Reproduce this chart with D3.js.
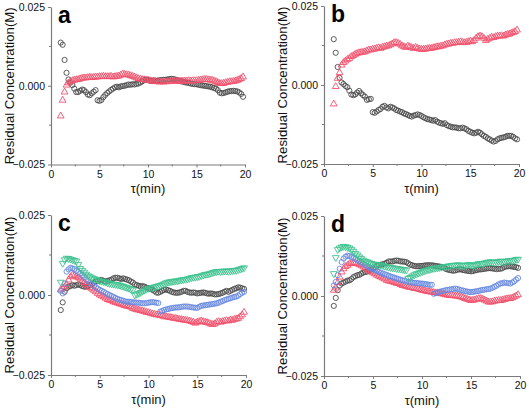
<!DOCTYPE html>
<html><head><meta charset="utf-8">
<script src="https://cdn.jsdelivr.net/npm/d3@7"></script>
<style>body{margin:0;background:#fff}svg{display:block}text{font-family:Arial,"Liberation Sans",sans-serif}</style>
</head><body>
<svg id="chart" width="529" height="410"></svg>
<script>
// time axis (min)
const tau = [1.0,1.2,1.4,1.6,1.8,2.0,2.2,2.4,2.6,2.8,
3.0,3.2,3.4,3.6,3.8,4.0,4.2,4.4,4.6,4.8,
5.0,5.2,5.4,5.6,5.8,6.0,6.2,6.4,6.6,6.8,
7.0,7.2,7.4,7.6,7.8,8.0,8.2,8.4,8.6,8.8,
9.0,9.2,9.4,9.6,9.8,10.0,10.2,10.4,10.6,10.8,
11.0,11.2,11.4,11.6,11.8,12.0,12.2,12.4,12.6,12.8,
13.0,13.2,13.4,13.6,13.8,14.0,14.2,14.4,14.6,14.8,
15.0,15.2,15.4,15.6,15.8,16.0,16.2,16.4,16.6,16.8,
17.0,17.2,17.4,17.6,17.8,18.0,18.2,18.4,18.6,18.8,
19.0,19.2,19.4,19.6,19.8];

// residuals in mM (1e-3 M)
const aBlack = [13.7,13.0,8.2,4.1,2.0,1.0,0.2,-0.9,-2.0,-2.0,
-1.6,-1.2,-1.4,-2.0,-2.8,-3.0,-2.4,-1.9,-1.4,-4.6,
-4.8,-4.5,-3.6,-2.9,-2.3,-1.8,-1.3,-0.9,-0.5,-0.3,
-0.5,-0.2,-0.1,0.0,0.2,0.4,0.3,0.5,0.4,0.6,
0.7,1.0,1.4,1.8,1.9,1.8,1.6,1.5,1.7,1.6,
1.6,1.8,1.8,1.9,1.9,2.0,2.1,2.2,2.1,2.0,
1.8,1.6,1.4,1.3,1.1,1.0,0.9,0.7,0.6,0.5,
0.5,0.3,0.2,0.1,0.0,-0.1,-0.2,-0.3,-0.5,-0.7,
-0.9,-1.4,-2.2,-2.4,-2.3,-2.1,-1.9,-1.7,-1.7,-1.6,
-1.7,-1.8,-2.1,-2.6,-3.5];
const aRed = [-9.6,-4.6,-2.0,0.2,0.9,1.3,1.6,1.8,1.9,2.0,
2.2,2.4,2.5,2.5,2.6,2.7,2.6,2.7,2.8,2.8,
2.9,2.9,3.0,2.9,2.9,2.9,3.0,2.8,2.9,3.0,
3.1,3.4,3.7,3.6,3.5,3.4,3.2,3.0,2.8,2.5,
2.3,2.1,2.0,1.9,1.8,1.8,1.6,1.5,1.4,1.3,
1.3,1.2,1.3,1.2,1.3,1.3,1.4,1.4,1.5,1.5,
1.5,1.4,1.5,1.5,1.5,1.5,1.6,1.5,1.6,1.6,
1.6,1.7,1.8,1.9,2.0,2.0,1.9,1.8,1.8,1.5,
1.3,1.0,0.7,0.7,0.8,1.0,1.1,1.3,1.3,1.4,
1.5,1.7,2.0,2.3,2.8];
const bBlack = [14.5,10.2,5.7,2.3,0.8,0.3,-0.3,-0.7,-1.8,-3.0,
-3.2,-3.0,-2.4,-1.9,-2.6,-3.2,-3.7,-4.7,-4.5,-4.4,
-8.6,-8.8,-8.4,-7.9,-7.6,-6.9,-6.6,-7.1,-7.4,-6.9,
-7.1,-7.4,-7.9,-8.1,-8.4,-8.6,-9.0,-9.2,-9.5,-9.8,
-10.0,-9.7,-9.5,-9.3,-9.5,-9.8,-10.2,-10.5,-10.8,-10.9,
-11.1,-11.3,-11.1,-11.6,-11.9,-12.1,-12.3,-12.1,-12.7,-13.0,
-13.2,-13.4,-13.4,-13.5,-13.7,-13.7,-13.5,-13.7,-14.0,-14.5,
-14.8,-15.1,-15.3,-15.1,-14.8,-15.1,-15.6,-16.1,-16.4,-16.9,
-17.2,-17.6,-17.9,-17.7,-17.2,-16.9,-16.7,-16.6,-16.4,-16.1,
-16.1,-16.1,-16.4,-16.9,-17.2];
const bRed = [-6.0,-0.5,2.1,3.9,6.3,7.1,7.6,8.1,8.4,9.0,
9.3,9.7,10.0,10.2,10.3,10.4,10.5,10.8,11.1,11.1,
11.3,11.4,11.6,11.8,11.6,11.9,12.1,12.3,12.4,12.7,
13.0,13.4,13.4,13.2,12.9,12.4,12.1,11.9,12.3,12.1,
11.8,11.6,11.9,11.6,11.4,11.3,11.3,11.4,11.5,11.6,
11.6,11.8,11.9,12.1,12.1,12.3,12.4,12.7,12.9,13.0,
13.2,13.2,13.4,13.4,13.5,13.7,13.5,13.4,13.5,13.7,
13.9,13.7,14.1,14.8,15.3,15.5,15.3,14.8,14.1,14.5,
14.8,15.1,15.0,15.3,15.5,15.5,15.6,15.5,15.8,16.0,
16.1,16.4,16.6,16.9,17.4];
const cBlack = [-4.7,-2.3,1.0,2.1,2.6,2.8,3.1,2.9,3.1,3.3,
3.1,2.8,2.6,2.6,2.8,3.1,3.4,3.9,4.2,4.4,
4.6,4.7,4.4,4.2,4.4,4.6,4.8,5.2,5.4,5.4,
5.2,5.0,5.2,5.0,4.8,4.6,4.2,3.9,3.3,3.1,
2.9,2.7,2.8,2.6,2.3,2.1,1.9,1.6,1.3,0.8,
0.7,1.0,1.3,1.6,1.7,1.5,1.3,1.0,0.8,0.7,
0.7,0.8,1.0,1.3,1.3,1.0,0.8,0.7,0.8,0.7,
0.5,0.6,0.7,0.8,0.7,0.5,0.4,0.5,0.4,0.2,
0.2,0.3,0.5,0.7,1.0,1.3,1.0,1.3,1.6,1.9,
2.1,2.4,2.3,2.1,1.9];
const cRed = [1.6,2.1,2.6,3.3,4.7,5.7,6.2,6.0,5.7,5.4,
5.0,4.4,3.9,3.3,2.8,2.3,1.9,1.5,1.0,0.5,
0.0,-0.3,-0.6,-1.0,-1.4,-1.6,-1.8,-2.1,-2.3,-2.5,
-2.7,-2.9,-3.1,-3.3,-3.5,-3.6,-3.8,-4.2,-4.4,-4.6,
-4.7,-4.9,-5.0,-5.2,-5.4,-5.5,-5.7,-5.9,-6.0,-6.2,
-6.2,-6.4,-6.5,-6.8,-6.8,-6.9,-7.0,-7.1,-7.3,-7.3,
-7.5,-7.6,-7.7,-7.8,-7.9,-8.0,-8.1,-8.3,-8.5,-8.8,
-8.5,-8.3,-8.1,-8.3,-8.5,-8.6,-8.8,-9.1,-9.2,-9.0,
-8.5,-8.3,-8.5,-8.3,-8.1,-8.0,-8.1,-7.8,-7.9,-7.6,
-7.5,-7.3,-6.8,-6.2,-5.4];
const cBlue = [1.3,0.5,3.6,7.3,8.0,8.5,8.3,8.1,7.6,7.2,
6.8,6.2,5.6,4.9,4.3,3.6,3.2,2.8,2.4,2.0,
1.6,1.3,1.0,0.6,0.3,0.0,-0.3,-0.6,-0.9,-1.2,
-1.4,-1.6,-1.8,-2.0,-2.1,-2.1,-2.2,-2.3,-2.3,-2.4,
-2.4,-2.5,-2.6,-2.6,-2.5,-2.4,-2.3,-2.2,-2.3,-2.4,
-2.5,-5.2,-5.0,-4.7,-4.5,-4.4,-4.2,-4.1,-4.0,-3.9,
-3.9,-3.8,-3.7,-3.6,-3.6,-3.6,-3.7,-3.8,-3.9,-4.0,
-4.0,-3.7,-3.4,-3.3,-3.2,-3.1,-3.0,-2.9,-2.8,-2.7,
-2.6,-2.4,-2.1,-1.9,-1.6,-1.4,-1.2,-1.0,-0.8,-0.6,
-0.5,-0.2,0.3,0.7,1.0];
const cGreen = [4.0,9.9,11.0,11.5,11.4,11.2,11.0,10.8,10.6,9.5,
8.3,7.7,7.1,6.5,6.0,5.7,5.4,5.1,4.9,4.6,
4.4,4.3,4.1,4.0,3.8,3.6,3.5,3.4,3.3,3.2,
3.1,2.9,2.7,2.5,2.3,2.1,1.8,1.6,0.0,0.2,
0.5,0.8,1.2,1.5,1.8,2.1,2.2,2.3,2.5,2.7,
2.8,3.0,3.2,3.5,3.8,4.0,4.1,4.2,4.3,4.4,
4.4,4.6,4.7,4.8,4.9,5.0,5.2,5.4,5.5,5.6,
5.7,5.8,6.0,6.2,6.4,6.5,6.6,6.8,7.0,7.2,
7.3,7.4,7.3,7.4,7.5,7.5,7.4,7.5,7.6,7.7,
7.7,7.9,8.1,8.3,8.5];
const dBlack = [-3.1,-0.6,1.8,3.3,3.9,4.2,4.5,4.8,4.9,5.3,
5.9,6.2,6.5,6.6,7.0,7.3,7.5,7.6,8.0,8.3,
8.5,9.0,9.6,9.7,9.8,9.9,10.1,10.4,10.8,10.8,
10.8,11.0,11.1,11.0,10.8,10.8,10.7,10.6,10.2,9.8,
9.6,9.4,9.3,9.3,9.4,9.4,9.5,9.6,9.6,9.6,
9.6,9.5,9.4,9.3,9.2,9.1,8.9,8.5,8.3,8.1,
8.0,7.9,8.0,8.2,8.3,8.3,8.1,8.0,7.9,7.8,
7.7,7.8,8.0,8.1,8.3,8.3,8.4,8.5,8.6,8.7,
8.7,8.6,8.5,8.4,8.5,8.5,8.7,9.1,9.2,9.3,
9.3,9.2,9.1,9.0,8.8];
const dRed = [1.8,2.5,4.2,5.9,7.5,8.5,9.2,9.6,10.1,10.2,
10.4,10.3,10.1,9.8,9.6,9.1,8.8,8.4,8.0,7.6,
7.2,6.9,6.5,6.2,5.9,5.6,5.3,4.9,4.7,4.6,
4.4,4.2,4.0,3.9,3.6,3.3,3.2,3.0,2.8,2.7,
2.6,2.4,2.3,2.2,2.0,1.8,1.7,1.5,1.4,1.3,
1.2,1.1,1.0,1.0,0.8,0.7,0.6,0.4,0.3,0.2,
0.2,0.1,0.0,0.0,-0.2,-0.3,-0.5,-0.8,-1.0,-1.2,
-1.4,-1.3,-1.2,-1.0,-0.8,-0.8,-1.0,-1.3,-1.6,-1.9,
-1.9,-1.8,-1.6,-1.5,-1.4,-1.4,-1.3,-1.1,-0.9,-0.8,
-0.8,-0.6,-0.3,0.0,0.4];
const dBlue = [3.3,4.4,6.5,8.5,10.6,11.7,12.3,12.6,12.5,12.2,
11.9,11.6,11.3,10.9,10.5,10.1,9.7,9.3,9.0,8.6,
8.3,8.1,7.8,7.5,7.3,7.0,6.8,6.6,6.3,6.1,
5.9,5.7,5.5,5.3,5.1,4.9,4.8,4.6,4.4,4.3,
4.2,4.1,4.1,4.0,3.9,3.9,3.8,3.7,3.6,3.5,
3.5,0.7,0.9,1.1,1.3,1.5,1.6,1.8,1.9,2.0,
2.1,2.2,2.3,2.2,2.0,1.8,1.7,1.5,1.4,1.3,
1.2,1.3,1.4,1.5,1.6,1.8,1.9,2.0,2.1,2.2,
2.3,2.6,2.9,3.2,3.6,3.9,4.0,4.2,4.1,4.0,
3.9,4.2,4.6,5.1,5.6];
const dGreen = [7.0,12.0,14.5,15.0,15.3,15.5,15.4,15.2,15.0,14.5,
14.0,13.3,12.8,12.2,11.7,11.2,10.9,10.7,10.4,10.2,
10.0,9.9,9.8,9.7,9.7,9.5,9.3,9.2,9.0,8.9,
8.8,8.7,8.6,8.5,8.4,8.3,8.2,8.1,5.5,5.8,
6.2,6.6,6.9,7.1,7.3,7.6,7.8,8.0,8.2,8.3,
8.5,8.6,8.7,8.8,8.9,9.0,9.1,9.2,9.3,9.4,
9.5,9.6,9.6,9.7,9.7,9.6,9.5,9.6,9.7,9.8,
9.7,9.6,9.7,9.9,10.1,10.2,10.1,10.3,10.5,10.6,
10.7,10.6,10.5,10.6,10.8,10.9,10.8,10.7,10.9,11.0,
11.1,11.0,11.2,11.4,11.5];

const xTicks = [0, 5, 10, 15, 20];
const xMinor = [2.5, 7.5, 12.5, 17.5];
const yTicks = [-0.025, 0.000, 0.025];
const yMinor = [-0.0125, 0.0125];
const panelLabels = ["a", "b", "c", "d"];

const svg = d3.select("#chart");
const styles = {
  black: {color: "#4a4a4a", shape: "circle"},
  red:   {color: "#f2506c", shape: "up"},
  blue:  {color: "#6688e0", shape: "circle"},
  green: {color: "#3ec28e", shape: "down"}
};

const panels = [
  {label: panelLabels[0], x0: 51, x1: 245, yT: 7, yB: 164.5, titleX: 9,
   series: [["black", aBlack], ["red", aRed]]},
  {label: panelLabels[1], x0: 324, x1: 519, yT: 6, yB: 164, titleX: 282,
   series: [["black", bBlack], ["red", bRed]]},
  {label: panelLabels[2], x0: 51, x1: 246, yT: 215, yB: 375, titleX: 9,
   series: [["black", cBlack], ["red", cRed], ["blue", cBlue], ["green", cGreen]]},
  {label: panelLabels[3], x0: 324, x1: 520, yT: 216, yB: 376, titleX: 282,
   series: [["black", dBlack], ["red", dRed], ["blue", dBlue], ["green", dGreen]]}
];

const symCircle = d3.symbol().type(d3.symbolCircle).size(21)();
const symTri = d3.symbol().type(d3.symbolTriangle).size(20)();

panels.forEach(p => {
  const x = d3.scaleLinear().domain([0, 20]).range([p.x0, p.x1]);
  const y = d3.scaleLinear().domain([-0.025, 0.025]).range([p.yB, p.yT]);
  const g = svg.append("g");
  const axisColor = "#7a7a7a";

  // x axis
  const xa = g.append("g").attr("transform", `translate(0,${p.yB})`)
    .call(d3.axisBottom(x).tickValues(xTicks).tickSize(3).tickSizeOuter(0).tickPadding(3).tickFormat(d3.format("d")));
  xa.append("g").selectAll("line").data(xMinor).join("line")
    .attr("x1", d => x(d)).attr("x2", d => x(d)).attr("y1", 0).attr("y2", 2)
    .attr("stroke", axisColor);
  // y axis
  const ya = g.append("g").attr("transform", `translate(${p.x0},0)`)
    .call(d3.axisLeft(y).tickValues(yTicks).tickSize(3).tickSizeOuter(0).tickPadding(3).tickFormat(d3.format(".3f")));
  ya.append("g").selectAll("line").data(yMinor).join("line")
    .attr("x1", 0).attr("x2", -2).attr("y1", d => y(d)).attr("y2", d => y(d))
    .attr("stroke", axisColor);
  [xa, ya].forEach(a => {
    a.select(".domain").attr("stroke", axisColor).attr("stroke-width", 1.2);
    a.selectAll(".tick line").attr("stroke", axisColor);
    a.selectAll(".tick text").attr("fill", "#111").style("font-size", "10.5px")
      .style("font-family", "Arial, 'Liberation Sans', sans-serif");
  });

  // titles
  g.append("text").attr("x", (p.x0 + p.x1) / 2).attr("y", p.yB + 28.5)
    .attr("text-anchor", "middle").attr("font-size", 13).attr("fill", "#111").text("τ(min)");
  g.append("text").attr("transform", `translate(${p.titleX + 4.5},${(p.yT + p.yB) / 2}) rotate(-90)`)
    .attr("text-anchor", "middle").attr("font-size", 13.2).attr("fill", "#111")
    .text("Residual Concentration(M)");
  g.append("text").attr("x", p.x0 + 7).attr("y", p.yT + 15.5)
    .attr("font-size", 23).attr("font-weight", "bold").attr("fill", "#000").text(p.label);

  // data
  p.series.forEach(([key, vals]) => {
    const st = styles[key];
    const path = st.shape === "circle" ? symCircle : symTri;
    g.append("g").selectAll("path").data(vals).join("path")
      .attr("d", path)
      .attr("transform", (v, i) => `translate(${x(tau[i])},${y(v / 1000)})` + (st.shape === "down" ? " rotate(180)" : ""))
      .attr("fill", "none").attr("stroke", st.color).attr("stroke-width", 0.9);
  });
});
</script>
</body></html>
